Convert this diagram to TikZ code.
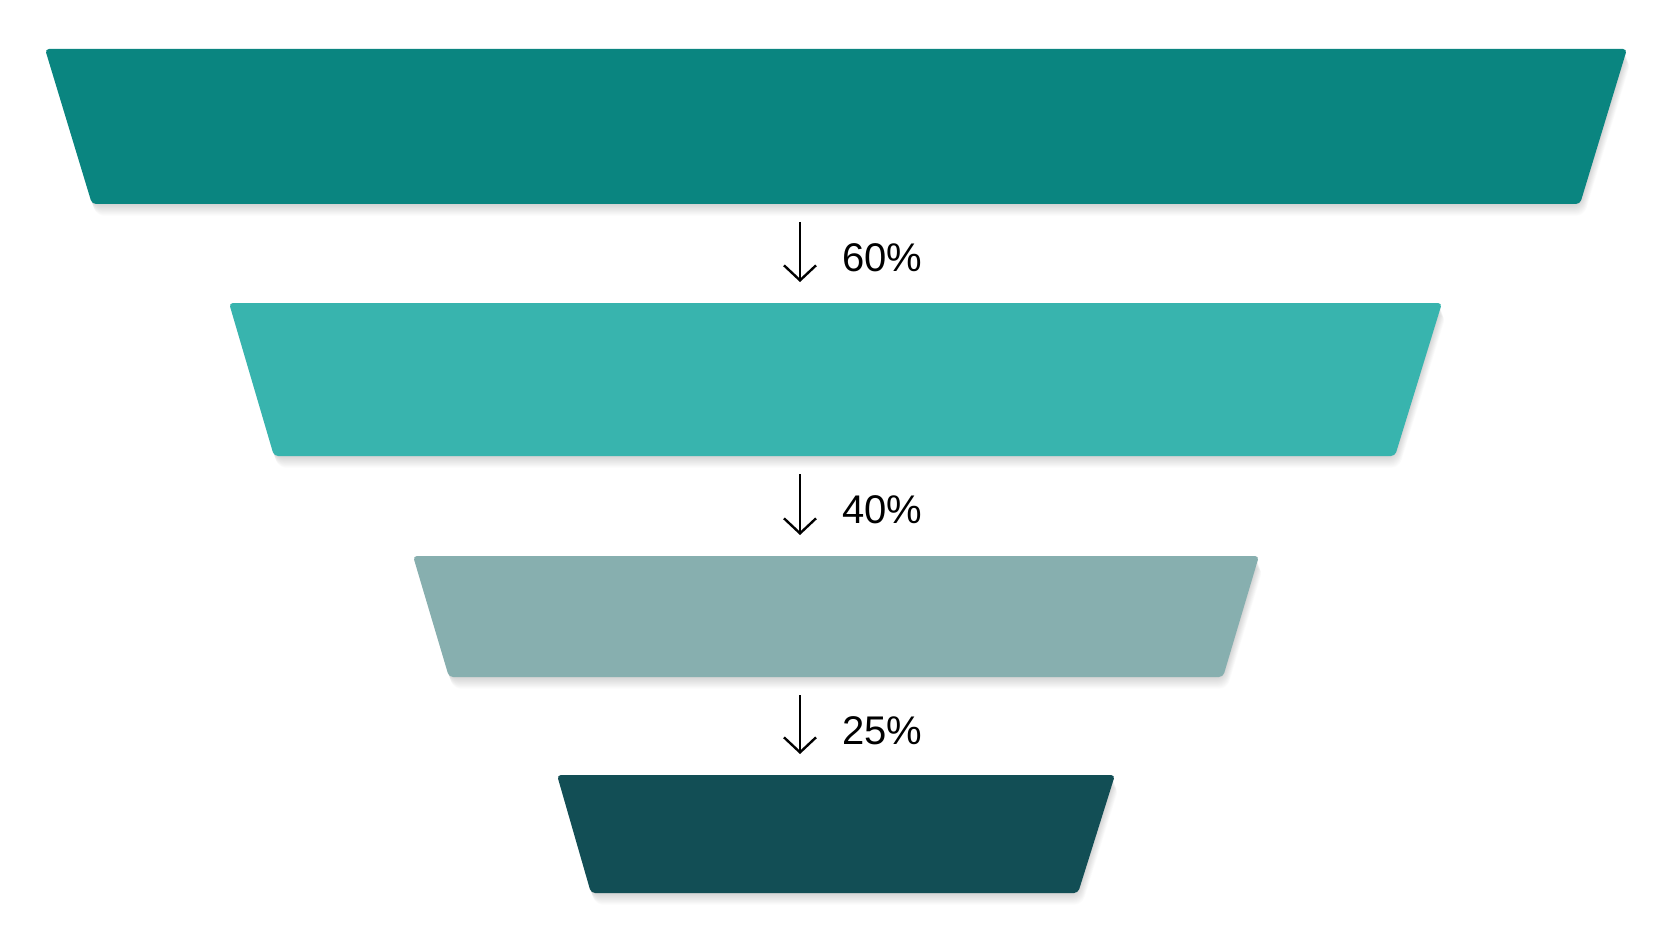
\documentclass[tikz,border=0pt]{standalone}
\usepackage{fontspec}
\setmainfont{Liberation Sans}
\usetikzlibrary{arrows.meta}
\definecolor{barA}{HTML}{0A8580}
\definecolor{barB}{HTML}{38B4AE}
\definecolor{barC}{HTML}{87AFAF}
\definecolor{barD}{HTML}{124E55}
\newcommand\funnelbar[2]{%
  \foreach \k in {1,...,14}{%
    \fill[black, opacity=0.011, rounded corners=8pt, xshift=0.3*\k pt, yshift=-0.85*\k pt] #2;}%
  \fill[#1, rounded corners=4pt] #2;}
\tikzset{
  flow/.style={line width=2.4pt, black, shorten <=18pt, shorten >=21pt,
    -{Straight Barb[length=15pt,width=32pt,line width=2.4pt]}},
  pct/.style={font=\fontsize{40}{46}\selectfont, inner sep=0pt, anchor=base west}
}
\begin{document}
\begin{tikzpicture}[x=1pt,y=-1pt]
\useasboundingbox (0,0) rectangle (1672,941);
\fill[white] (0,0) rectangle (1672,941);
% bars
\funnelbar{barA}{(45,49) -- (1627,49) -- (1580,204) -- (92,204) -- cycle}
\funnelbar{barB}{(229,303) -- (1442,303) -- (1395,456) -- (274,456) -- cycle}
\funnelbar{barC}{(413,556) -- (1259,556) -- (1223,677) -- (449,677) -- cycle}
\funnelbar{barD}{(557,775) -- (1115,775) -- (1078,893) -- (591,893) -- cycle}
% anchor points on bar edges, under the arrows
\coordinate (b1bot) at (800,204);
\coordinate (b2top) at (800,303);
\coordinate (b2bot) at (800,456);
\coordinate (b3top) at (800,556);
\coordinate (b3bot) at (800,677);
\coordinate (b4top) at (800,775);
% arrows
\draw[flow] (b1bot) -- (b2top);
\draw[flow] (b2bot) -- (b3top);
\draw[flow] (b3bot) -- (b4top);
% labels
\node[pct] (p1) at (842,271) {60\%};
\node[pct] (p2) at (842,523) {40\%};
\node[pct] (p3) at (842,744) {25\%};
\end{tikzpicture}
\end{document}
